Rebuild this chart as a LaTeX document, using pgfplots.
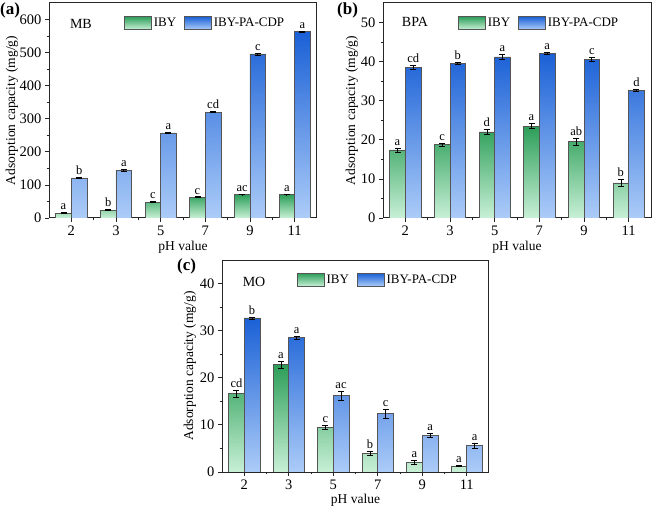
\documentclass[border=0pt]{standalone}
\usepackage{fontspec}
\setmainfont{Liberation Serif}
\usepackage{pgfplots}
\pgfplotsset{compat=1.18}
\usepackage{pgfplotstable}

\definecolor{gtop}{RGB}{44,158,88}
\definecolor{gbot}{RGB}{200,240,214}
\definecolor{btop}{RGB}{26,96,214}
\definecolor{bbot}{RGB}{172,204,248}
\definecolor{edge}{RGB}{85,85,85}

% MB
\pgfplotstableread{
x y e l
0 15 1.5 a
1 24 1.5 b
2 48 1.0 c
3 63 1.0 c
4 71 1.0 ac
5 71 1.0 a
}\MBg
\pgfplotstableread{
x y e l
0 121 2.0 b
1 145 3.0 a
2 257 2.0 a
3 320 1.5 cd
4 496 3.0 c
5 563 2.0 a
}\MBb
% BPA
\pgfplotstableread{
x y e l
0 17.4 0.5 a
1 18.8 0.4 c
2 22.0 0.7 d
3 23.5 0.6 a
4 19.6 0.9 ab
5 9.0 0.8 b
}\BPAg
\pgfplotstableread{
x y e l
0 38.5 0.5 cd
1 39.5 0.3 b
2 41.2 0.7 a
3 42.2 0.3 a
4 40.6 0.4 c
5 32.6 0.3 d
}\BPAb
% MO
\pgfplotstableread{
x y e l
0 16.6 0.8 cd
1 22.8 0.7 a
2 9.5 0.4 c
3 4.0 0.4 b
4 2.0 0.4 a
5 1.3 0.2 a
}\MOg
\pgfplotstableread{
x y e l
0 32.7 0.2 b
1 28.5 0.4 a
2 16.2 0.9 ac
3 12.4 1.0 c
4 7.8 0.4 a
5 5.6 0.5 a
}\MOb

\pgfplotsset{
  panel/.style={
    scale only axis,
    width=268bp, height=215bp,
    anchor=south west,
    xmin=-0.5, xmax=5.5, ymin=0,
    xtick={0,...,5}, xticklabels={2,3,5,7,9,11},
    minor x tick num=1, minor y tick num=1,
    tick align=outside, xtick pos=left, ytick pos=left,
    major tick length=4bp, minor tick length=2.5bp,
    axis line style={line width=1bp, black!85},
    tick style={line width=0.8bp, black!85},
    /pgf/number format/assume math mode=true,
    tick label style={font=\fontsize{14.5bp}{14.5bp}\selectfont},
    ylabel={Adsorption capacity (mg/g)},
    xlabel={pH value},
    label style={font=\fontsize{13.5bp}{13.5bp}\selectfont},
    xlabel style={at={(axis description cs:0.5,-0.135)}, anchor=center},
    legend style={at={(axis description cs:0.28,0.907)}, anchor=west, draw=none, fill=none,
      legend columns=2, inner sep=0pt,
      font=\fontsize{13bp}{13bp}\selectfont,
      /tikz/every even column/.append style={column sep=6bp}},
  },
  gbar/.style={ybar, bar width=0.35, bar shift=0, draw=edge, line width=0.6bp,
    top color=gtop, bottom color=gbot,
    legend image code/.code={\draw[draw=edge, line width=0.6bp, top color=gtop, bottom color=gbot] (0bp,-6.5bp) rectangle (27bp,6.5bp);},
    error bars/.cd, y dir=both, y explicit,
    error bar style={black, line width=0.7bp},
    error mark options={rotate=90, black, mark size=3bp, line width=0.7bp}},
  bbar/.style={ybar, bar width=0.35, bar shift=0, draw=edge, line width=0.6bp,
    top color=btop, bottom color=bbot,
    legend image code/.code={\draw[draw=edge, line width=0.6bp, top color=btop, bottom color=bbot] (0bp,-6.5bp) rectangle (27bp,6.5bp);},
    error bars/.cd, y dir=both, y explicit,
    error bar style={black, line width=0.7bp},
    error mark options={rotate=90, black, mark size=3bp, line width=0.7bp}},
  lab/.style={only marks, mark=none, forget plot, point meta=explicit symbolic,
    nodes near coords,
    every node near coord/.append style={font=\fontsize{12.5bp}{12.5bp}\selectfont, anchor=south, inner sep=1bp, yshift=1.5bp, text=black}},
}

\begin{document}
\begin{tikzpicture}
\useasboundingbox (0bp,0bp) rectangle (654bp,510bp);

% (a)
\begin{axis}[panel, at={(49bp,292bp)}, ymax=650, ytick={0,100,...,600},
  ylabel style={at={(axis description cs:-0.138,0.5)}, anchor=center}]
\addplot[gbar] table[x expr=\thisrow{x}-0.175, y=y, y error=e] {\MBg};
\addlegendentry{IBY}
\addplot[bbar] table[x expr=\thisrow{x}+0.175, y=y, y error=e] {\MBb};
\addlegendentry{IBY-PA-CDP}
\addplot[lab] table[x expr=\thisrow{x}-0.175, y expr=\thisrow{y}+\thisrow{e}, meta=l] {\MBg};
\addplot[lab] table[x expr=\thisrow{x}+0.175, y expr=\thisrow{y}+\thisrow{e}, meta=l] {\MBb};
\node[font=\fontsize{14bp}{14bp}\selectfont] at (axis description cs:0.119,0.902) {MB};
\end{axis}

% (b)
\begin{axis}[panel, at={(383bp,292bp)}, ymax=55, ytick={0,10,...,50},
  ylabel style={at={(axis description cs:-0.116,0.5)}, anchor=center}]
\addplot[gbar] table[x expr=\thisrow{x}-0.175, y=y, y error=e] {\BPAg};
\addlegendentry{IBY}
\addplot[bbar] table[x expr=\thisrow{x}+0.175, y=y, y error=e] {\BPAb};
\addlegendentry{IBY-PA-CDP}
\addplot[lab] table[x expr=\thisrow{x}-0.175, y expr=\thisrow{y}+\thisrow{e}, meta=l] {\BPAg};
\addplot[lab] table[x expr=\thisrow{x}+0.175, y expr=\thisrow{y}+\thisrow{e}, meta=l] {\BPAb};
\node[font=\fontsize{14bp}{14bp}\selectfont] at (axis description cs:0.119,0.91) {BPA};
\end{axis}

% (c)
\begin{axis}[panel, at={(222bp,38bp)}, width=267bp, height=212bp, ymax=45, ytick={0,10,...,40},
  ylabel style={at={(axis description cs:-0.12,0.5)}, anchor=center},
  xlabel style={at={(axis description cs:0.5,-0.132)}, anchor=center}]
\addplot[gbar] table[x expr=\thisrow{x}-0.175, y=y, y error=e] {\MOg};
\addlegendentry{IBY}
\addplot[bbar] table[x expr=\thisrow{x}+0.175, y=y, y error=e] {\MOb};
\addlegendentry{IBY-PA-CDP}
\addplot[lab] table[x expr=\thisrow{x}-0.175, y expr=\thisrow{y}+\thisrow{e}, meta=l] {\MOg};
\addplot[lab] table[x expr=\thisrow{x}+0.175, y expr=\thisrow{y}+\thisrow{e}, meta=l] {\MOb};
\node[font=\fontsize{14bp}{14bp}\selectfont] at (axis description cs:0.12,0.896) {MO};
\end{axis}

\node[anchor=west, inner sep=0pt, font=\bfseries\fontsize{17bp}{17bp}\selectfont] at (0bp,500bp) {(a)};
\node[anchor=west, inner sep=0pt, font=\bfseries\fontsize{17bp}{17bp}\selectfont] at (337bp,500bp) {(b)};
\node[anchor=west, inner sep=0pt, font=\bfseries\fontsize{17bp}{17bp}\selectfont] at (177bp,244bp) {(c)};
\end{tikzpicture}
\end{document}
